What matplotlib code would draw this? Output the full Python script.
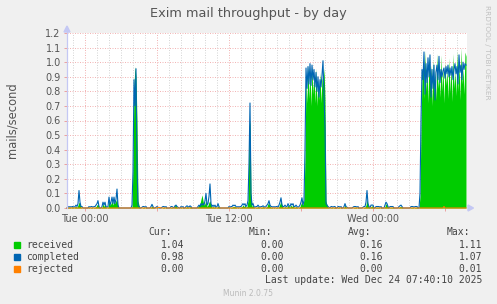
import matplotlib
matplotlib.use("Agg")
import numpy as np
import matplotlib.pyplot as plt
from matplotlib.patches import Rectangle, Polygon

W, H = 497, 304

# 5-minute samples, first one at Mon 22:30 (hours relative to Tue 00:00)
START_H = -1.5
STEP_H = 5 / 60

completed = [
    # Mon 22:30 .. Tue 00:45
    0, 0.01, 0.005, 0.01, 0.005, 0.01, 0.01, 0.005, 0.01, 0.02, 0.01,
    0.03, 0.12, 0.04, 0.01,
    0.01, 0, 0, 0, 0, 0, 0,
    0.01, 0.005, 0.01, 0.01, 0.005, 0.01, 0.01, 0.02, 0.03,
    0.05, 0.01, 0, 0,
    0.01, 0.04, 0.02, 0.04, 0.01, 0.005, 0.01,
    0.075, 0.02, 0.04, 0.075, 0.03, 0.075, 0.03, 0.06, 0.13, 0.02,
    0, 0, 0, 0, 0, 0, 0, 0, 0, 0, 0, 0, 0,
    # spike ~ Tue 04:00
    0.02, 0.25, 0.88, 0.70, 0.955, 0.30, 0.02,
    0.01, 0, 0, 0.005, 0.01, 0.01, 0.005, 0.01, 0, 0, 0, 0,
    0.01, 0.025, 0.01,
    0, 0, 0.005, 0.01, 0.005, 0, 0, 0, 0.005, 0.01, 0.01, 0.005, 0.01,
    0, 0, 0, 0,
    0.01, 0.01, 0.005, 0, 0.015, 0.02, 0.01, 0.005, 0, 0, 0.01, 0.005,
    0.01, 0, 0, 0.01, 0.015, 0.01, 0.005, 0.015, 0.01,
    0, 0, 0, 0, 0, 0,
    0.01, 0.02, 0.01, 0.03, 0.02, 0.03, 0.02, 0.05,
    0.10, 0.02, 0.03, 0.08, 0.165, 0.03, 0.01,
    0.02, 0.01, 0.02, 0.005, 0.01, 0.03, 0.01,
    0, 0, 0, 0, 0, 0, 0, 0, 0,
    0.01, 0.005, 0.01, 0.01, 0.02, 0.015, 0.02, 0.01, 0.005, 0.01, 0.005,
    0.01, 0.01, 0.02, 0.03, 0.02, 0.03, 0.01,
    # spike ~ Tue 15:30
    0.02, 0.05, 0.30, 0.72, 0.10, 0.02,
    0.03, 0.01, 0.005, 0.01, 0.01, 0.02, 0.01, 0.005, 0.01, 0.01, 0.015,
    0.01, 0.005,
    0.01, 0.02, 0.03, 0.05, 0.02, 0.01, 0.01, 0.005,
    0.01, 0.005, 0.01, 0.01, 0.005,
    0.02, 0.04, 0.07, 0.02, 0.01,
    0.01, 0.02, 0.01, 0.01, 0.03, 0.015, 0.01, 0.03, 0.02, 0.03, 0.01,
    0.01, 0.02, 0.01, 0.005, 0.01, 0.02,
    0.04, 0.07, 0.02, 0.05,
    # busy block Tue 18:20 .. 20:10
    0.40, 0.96, 0.82, 0.97, 0.85, 0.99, 0.84, 0.98, 0.88, 0.95, 0.83,
    0.93, 0.80, 0.90, 0.76, 0.88, 0.83, 0.91, 1.01, 0.78, 0.55, 0.03,
    0.02, 0.01, 0.005, 0, 0.01, 0.01, 0.005, 0.01, 0.01, 0, 0, 0.01,
    0.01, 0.005, 0.01, 0, 0, 0.01, 0.03, 0.01, 0.005, 0, 0,
    0, 0, 0, 0.005, 0.01, 0.01, 0.01, 0.005, 0.01, 0, 0, 0, 0, 0.005,
    0.01, 0.01,
    0.04, 0.12, 0.03, 0.01,
    0, 0.02, 0.02, 0.02, 0, 0, 0.01, 0.01, 0.01, 0.01, 0.005, 0.01, 0, 0, 0,
    0.02, 0.04, 0.03, 0.01,
    0, 0.01, 0.01, 0.01, 0.01, 0, 0, 0, 0, 0, 0.01, 0.015, 0.02, 0.01,
    0, 0, 0, 0, 0, 0, 0, 0,
    0.01, 0.01, 0.01, 0.005, 0.01, 0.01, 0.01, 0, 0, 0.10,
    # busy block Wed 03:40 .. 07:45
    0.60, 0.95, 0.88, 1.07, 0.78, 0.99, 0.86, 1.03, 0.90, 1.05, 0.76,
    0.95, 0.82, 0.98, 0.74, 0.93, 0.98, 0.88, 1.04, 0.86, 0.95, 0.90,
    0.94, 0.96, 0.89, 0.97, 0.92, 0.98, 0.90, 0.96, 0.91, 0.97, 0.88,
    0.95, 0.99, 0.92, 0.97, 0.85, 1.05, 0.93, 0.98, 0.88, 1.00, 0.95,
    0.99, 0.98,
]

received = [
    0, 0.005, 0.005, 0.005, 0, 0.01, 0.005, 0, 0.01, 0.01, 0.005,
    0.02, 0.04, 0.03, 0.005,
    0, 0, 0, 0, 0, 0, 0,
    0.005, 0, 0.005, 0.005, 0, 0.005, 0.005, 0.01, 0.02,
    0.03, 0.005, 0, 0,
    0.005, 0.03, 0.01, 0.03, 0.005, 0, 0.005,
    0.05, 0.02, 0.03, 0.05, 0.02, 0.05, 0.03, 0.05, 0.06, 0.01,
    0, 0, 0, 0, 0, 0, 0, 0, 0, 0, 0, 0, 0,
    0.01, 0.30, 0.85, 0.97, 0.90, 0.60, 0.05,
    0.02, 0, 0, 0, 0.005, 0.005, 0, 0.005, 0, 0, 0, 0,
    0.005, 0.015, 0.005,
    0, 0, 0, 0.005, 0, 0, 0, 0, 0, 0.005, 0.005, 0, 0.005,
    0, 0, 0, 0,
    0.005, 0.005, 0, 0, 0.02, 0.02, 0.005, 0, 0, 0, 0.005, 0,
    0.005, 0, 0, 0.005, 0.01, 0.005, 0, 0.01, 0.005,
    0, 0, 0, 0, 0, 0,
    0.01, 0.02, 0.03, 0.06, 0.09, 0.05, 0.02, 0.03,
    0.05, 0.01, 0.02, 0.04, 0.05, 0.02, 0.005,
    0.01, 0.005, 0.01, 0, 0.005, 0.015, 0.005,
    0, 0, 0, 0, 0, 0, 0, 0, 0,
    0.005, 0, 0.005, 0.005, 0.01, 0.01, 0.01, 0.005, 0, 0.005, 0,
    0.005, 0.005, 0.01, 0.02, 0.01, 0.02, 0.005,
    0.01, 0.05, 0.55, 0.60, 0.10, 0.01,
    0.02, 0.005, 0, 0.005, 0.005, 0.01, 0.005, 0, 0.005, 0.005, 0.01,
    0.005, 0,
    0.005, 0.01, 0.03, 0.03, 0.01, 0.005, 0.005, 0,
    0.005, 0, 0.005, 0.005, 0,
    0.01, 0.03, 0.05, 0.02, 0.005,
    0.005, 0.01, 0.005, 0.005, 0.02, 0.01, 0.005, 0.02, 0.01, 0.02, 0.005,
    0.005, 0.01, 0.005, 0, 0.005, 0.01,
    0.03, 0.04, 0.02, 0.06,
    0.35, 0.90, 0.72, 0.98, 0.75, 0.95, 0.70, 0.97, 0.78, 0.92, 0.72,
    0.96, 0.70, 0.88, 0.74, 0.93, 0.72, 0.90, 0.85, 0.96, 0.75, 0.05,
    0.02, 0.005, 0, 0, 0.005, 0.005, 0, 0.005, 0.005, 0, 0, 0.005,
    0.005, 0, 0.005, 0, 0, 0.005, 0.02, 0.005, 0, 0, 0,
    0, 0, 0, 0, 0.005, 0.005, 0.005, 0, 0.005, 0, 0, 0, 0, 0,
    0.005, 0.005,
    0.02, 0.06, 0.02, 0.005,
    0, 0.01, 0.015, 0.01, 0, 0, 0.005, 0.005, 0.005, 0.005, 0, 0.005, 0, 0, 0,
    0.01, 0.03, 0.02, 0.005,
    0, 0.005, 0.005, 0.005, 0.005, 0, 0, 0, 0, 0, 0.005, 0.01, 0.01, 0.005,
    0, 0, 0, 0, 0, 0, 0, 0,
    0.005, 0.005, 0.005, 0, 0.005, 0.005, 0.005, 0, 0, 0.08,
    0.55, 0.90, 1.02, 0.75, 1.08, 0.80, 0.96, 0.72, 1.04, 0.85, 0.98,
    0.70, 1.02, 0.78, 0.95, 0.74, 1.06, 0.82, 0.92, 0.76, 1.05, 0.80,
    0.97, 0.72, 1.00, 0.84, 0.95, 0.75, 1.03, 0.79, 0.98, 0.73, 1.06,
    0.82, 0.94, 0.77, 1.08, 0.80, 1.00, 0.74, 1.10, 0.85, 0.96, 0.78,
    1.07, 1.04,
]

# rejected is zero except for a couple of samples
rejected_nonzero = {91: 0.003, 92: 0.004, 93: 0.003, 377: 0.01}

x_tick_hours = [0, 12, 24]
x_tick_labels = ["Tue 00:00", "Tue 12:00", "Wed 00:00"]

legend_names = ["received", "completed", "rejected"]
legend_colors = ["#00CC00", "#0066B3", "#FF8000"]
stats = [
    ["1.04", "0.00", "0.16", "1.11"],
    ["0.98", "0.00", "0.16", "1.07"],
    ["0.00", "0.00", "0.00", "0.01"],
]
stat_headers = ["Cur:", "Min:", "Avg:", "Max:"]

n = len(completed)
t = START_H + np.arange(n) * STEP_H
rejected = np.zeros(n)
for i, v in rejected_nonzero.items():
    rejected[i] = v


def fx(x):
    return x / W


def fy(y):
    return 1 - y / H


fig = plt.figure(figsize=(W / 100, H / 100), dpi=100, facecolor="#F0F0F0")
ax = fig.add_axes([fx(67), fy(208), 400 / W, 175 / H])
ax.set_facecolor("white")

ax.fill_between(t, 0, received[:n], color="#00CC00", lw=0)
ax.plot(t, completed, color="#0066B3", lw=0.8, clip_on=False)
ax.plot(t, rejected, color="#FF8000", lw=0.8, clip_on=False)

ax.set_xlim(START_H, START_H + n * STEP_H)
ax.set_ylim(0, 1.2)

major_h = [0, 6, 12, 18, 24, 30]
ax.set_xticks(major_h)
ax.set_xticklabels([x_tick_labels[x_tick_hours.index(h)] if h in x_tick_hours else "" for h in major_h])
ax.set_xticks(np.arange(-1, 32), minor=True)
ax.set_yticks(np.arange(0, 1.21, 0.1))
ax.set_yticklabels([f"{v:.1f}" for v in np.arange(0, 1.21, 0.1)])

ax.grid(which="minor", axis="x", color="#D6D6D6", lw=0.72, linestyle=(0, (1, 1.5)))
ax.grid(which="major", color="#F2B6B6", lw=0.72, linestyle=(0, (1, 1.5)))
ax.set_axisbelow(True)

ax.tick_params(axis="both", which="major", labelsize=7, labelcolor="#555555",
               color="#EBA0A0", length=2, width=0.7, pad=2.5)
ax.tick_params(axis="x", which="minor", length=0)
for s in ["top", "right", "bottom"]:
    ax.spines[s].set_visible(False)
ax.spines["left"].set_color("#C4C8F4")
ax.spines["left"].set_linewidth(0.8)

# axis arrows
axis_col = "#C4C8F4"
fig.add_artist(plt.Line2D([fx(67), fx(67)], [fy(208), fy(30)], color=axis_col, lw=0.8))
fig.add_artist(Polygon([(fx(64), fy(32)), (fx(70), fy(32)), (fx(67), fy(26))],
                       closed=True, color=axis_col, transform=fig.transFigure))
fig.add_artist(Polygon([(fx(468), fy(205)), (fx(468), fy(211)), (fx(473.5), fy(208))],
                       closed=True, color=axis_col, transform=fig.transFigure))

fig.text(fx(248), fy(13), "Exim mail throughput - by day", ha="center", va="center",
         fontsize=9.3, color="#555555")
fig.text(fx(12), fy(120.5), "mails/second", rotation=90, ha="center", va="center",
         fontsize=8.3, color="#555555")
fig.text(fx(487), fy(5), "RRDTOOL / TOBI OETIKER", rotation=270, ha="center", va="top",
         fontsize=5.3, color="#C0C0C0")

mono = "DejaVu Sans Mono"
txt_col = "#444444"
col_right = [184, 284, 383, 482]
head_right = [172, 272, 371, 470]
for x, h in zip(head_right, stat_headers):
    fig.text(fx(x), fy(232.3), h, ha="right", va="center", family=mono, fontsize=7, color=txt_col)

row_y = [244.5, 256.7, 268.5]
for y, name, col, vals in zip(row_y, legend_names, legend_colors, stats):
    fig.add_artist(Rectangle((fx(14), fy(y + 3)), 6 / W, 6 / H, color=col,
                             transform=fig.transFigure))
    fig.text(fx(26.5), fy(y), name, ha="left", va="center", family=mono, fontsize=7, color=txt_col)
    for x, v in zip(col_right, vals):
        fig.text(fx(x), fy(y), v, ha="right", va="center", family=mono, fontsize=7, color=txt_col)

fig.text(fx(482), fy(280), "Last update: Wed Dec 24 07:40:10 2025", ha="right", va="center",
         family=mono, fontsize=7, color=txt_col)
fig.text(fx(248), fy(293.5), "Munin 2.0.75", ha="center", va="center",
         fontsize=5.5, color="#BBBBBB")

fig.savefig("out.png", dpi=100, facecolor=fig.get_facecolor())
